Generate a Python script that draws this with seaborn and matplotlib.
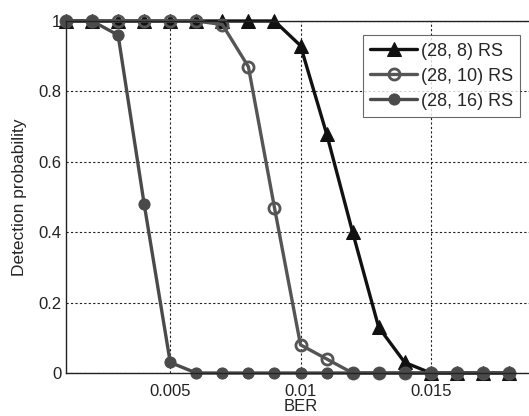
import matplotlib
matplotlib.use('Agg')
import matplotlib.pyplot as plt
import seaborn as sns

ber = [0.001, 0.002, 0.003, 0.004, 0.005, 0.006, 0.007, 0.008, 0.009,
       0.010, 0.011, 0.012, 0.013, 0.014, 0.015, 0.016, 0.017, 0.018]
rs_28_8 = [1, 1, 1, 1, 1, 1, 1, 1, 1, 0.93, 0.68, 0.40, 0.13, 0.03, 0, 0, 0, 0]
rs_28_10 = [1, 1, 1, 1, 1, 1, 0.99, 0.87, 0.47, 0.08, 0.04, 0, 0, 0, 0, 0, 0, 0]
rs_28_16 = [1, 1, 0.96, 0.48, 0.03, 0, 0, 0, 0, 0, 0, 0, 0, 0, 0, 0, 0, 0]
labels = ['(28, 8) RS', '(28, 10) RS', '(28, 16) RS']

sns.set_style('white')
plt.rcParams['font.family'] = ['Liberation Sans', 'DejaVu Sans']

fig = plt.figure(figsize=(5.29, 4.16), dpi=100)
ax = fig.add_axes([66/529, 43/416, 469/529, 352/416])

sns.lineplot(x=ber, y=rs_28_8, ax=ax, color='#111111', linewidth=2.4,
             marker='^', markersize=10, markerfacecolor='#111111',
             markeredgecolor='#111111', label=labels[0], clip_on=False)
sns.lineplot(x=ber, y=rs_28_10, ax=ax, color='#555555', linewidth=2.4,
             marker='o', markersize=8, markerfacecolor='none',
             markeredgecolor='#555555', markeredgewidth=2, label=labels[1],
             clip_on=False)
sns.lineplot(x=ber, y=rs_28_16, ax=ax, color='#4a4a4a', linewidth=2.4,
             marker='o', markersize=8, markerfacecolor='#4a4a4a',
             markeredgecolor='#4a4a4a', label=labels[2], clip_on=False)

ax.set_xlim(0.001, 0.019)
ax.set_ylim(0, 1)
ax.set_xticks([0.005, 0.01, 0.015])
ax.set_xticklabels(['0.005', '0.01', '0.015'])
ax.set_yticks([0, 0.2, 0.4, 0.6, 0.8, 1])
ax.set_yticklabels(['0', '0.2', '0.4', '0.6', '0.8', '1'])
ax.tick_params(direction='in', length=3, labelsize=12, colors='#222222')
ax.tick_params(axis='x', pad=8)
ax.grid(True, linestyle=(0, (2, 2)), color='#222222', linewidth=0.8)
for s in ax.spines.values():
    s.set_color('#222222')
    s.set_linewidth(1)

ax.set_xlabel('BER', fontsize=12, labelpad=0)
ax.set_ylabel('Detection probability', fontsize=12.5, labelpad=8)

leg = ax.legend(loc='upper right', bbox_to_anchor=(0.988, 0.985), fontsize=13,
                handlelength=2.6, handletextpad=0.2, borderpad=0.4,
                labelspacing=0.45, frameon=True, fancybox=False)
leg.get_frame().set_edgecolor('#444444')
leg.get_frame().set_linewidth(0.8)

fig.savefig('out.png', dpi=100)
